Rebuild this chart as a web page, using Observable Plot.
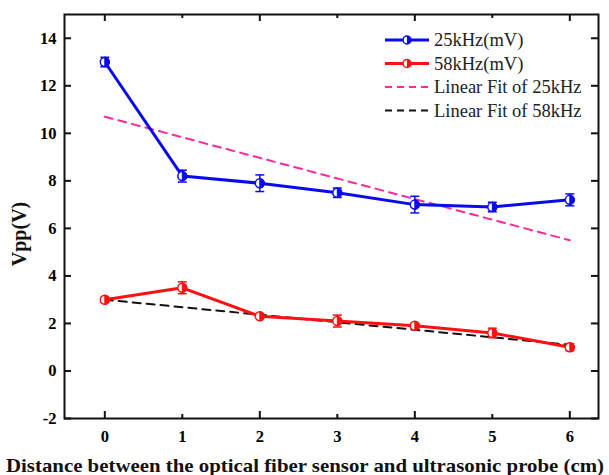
<!DOCTYPE html>
<html><head><meta charset="utf-8">
<script src="https://cdn.jsdelivr.net/npm/d3@7"></script>
<script src="https://cdn.jsdelivr.net/npm/@observablehq/plot@0.6"></script>
<style>body{margin:0;background:#fff;} svg{font-family:"Liberation Serif","Times New Roman",serif;}</style>
</head><body><div id="chart"></div>
<script>
const distances = [0, 1, 2, 3, 4, 5, 6];
const v25 = [13.0, 8.2, 7.9, 7.5, 7.0, 6.9, 7.2];
const e25 = [0.2, 0.25, 0.35, 0.2, 0.35, 0.2, 0.25];
const v58 = [3.0, 3.5, 2.3, 2.1, 1.9, 1.6, 1.0];
const e58 = [0.1, 0.25, 0.05, 0.25, 0.1, 0.2, 0.15];
const fit25 = [10.7, 5.5];
const fit58 = [3.0, 1.1];
const fitX = [0, 6];
const xTicks = [0, 1, 2, 3, 4, 5, 6];
const xMajor = [0, 2, 4, 6];
const xMinor = [1, 3, 5];
const yTicks = [-2, 0, 2, 4, 6, 8, 10, 12, 14];
const xTitle = "Distance between the optical fiber sensor and ultrasonic probe (cm)";
const yTitle = "Vpp(V)";
const legendLabels = ["25kHz(mV)", "58kHz(mV)", "Linear Fit of 25kHz", "Linear Fit of 58kHz"];

const blue = "#0a0af0", red = "#ff1010", pink = "#ff2a9a", black = "#111";
const W = 609, H = 475, mL = 64, mR = 11, mT = 14, mB = 57;
const fw = W - mL - mR, fh = H - mT - mB, tk = 7, tkm = 4;

const d25 = distances.map((x, i) => ({x, y: v25[i], lo: v25[i] - e25[i], hi: v25[i] + e25[i]}));
const d58 = distances.map((x, i) => ({x, y: v58[i], lo: v58[i] - e58[i], hi: v58[i] + e58[i]}));
const f25 = fitX.map((x, i) => ({x, y: fit25[i]}));
const f58 = fitX.map((x, i) => ({x, y: fit58[i]}));

const halfRight = {draw(ctx, size) { const r = Math.sqrt(size / Math.PI); ctx.moveTo(0, -r); ctx.arc(0, 0, r, -Math.PI / 2, Math.PI / 2); ctx.closePath(); }};
const cap = {draw(ctx, size) { const r = Math.sqrt(size / Math.PI); ctx.moveTo(-r, 0); ctx.lineTo(r, 0); }};

function series(data, color) {
  return [
    Plot.line(data, {x: "x", y: "y", stroke: color, strokeWidth: 3}),
    Plot.ruleX(data, {x: "x", y1: "lo", y2: "hi", stroke: color, strokeWidth: 1.5}),
    Plot.dot(data, {x: "x", y: "lo", symbol: cap, r: 4.5, stroke: color, strokeWidth: 1.5}),
    Plot.dot(data, {x: "x", y: "hi", symbol: cap, r: 4.5, stroke: color, strokeWidth: 1.5}),
    Plot.dot(data, {x: "x", y: "y", r: 4.5, fill: "white", stroke: color, strokeWidth: 1.5}),
    Plot.dot(data, {x: "x", y: "y", r: 4.5, symbol: halfRight, fill: color, stroke: color, strokeWidth: 1})
  ];
}

const plot = Plot.plot({
  width: W, height: H,
  marginLeft: mL, marginRight: mR, marginTop: mT, marginBottom: mB,
  style: {fontFamily: "'Liberation Serif','Times New Roman',serif", background: "white"},
  x: {domain: [-0.52, 6.37]},
  y: {domain: [-2, 15]},
  marks: [
    Plot.line(f25, {x: "x", y: "y", stroke: pink, strokeWidth: 2, strokeDasharray: "8,6"}),
    Plot.line(f58, {x: "x", y: "y", stroke: black, strokeWidth: 2, strokeDasharray: "8,6"}),
    ...series(d25, blue),
    ...series(d58, red),
    Plot.axisX({ticks: xTicks, tickSize: 0, tickPadding: 12, tickFormat: d => `${d}`, fontSize: 16.5, fontWeight: "bold", label: null}),
    Plot.axisY({ticks: yTicks, tickSize: 0, tickPadding: 8, tickFormat: d => `${d}`, fontSize: 16.5, fontWeight: "bold", label: null}),
    Plot.ruleX(xMajor, {x: d => d, insetTop: fh - tk, stroke: black, strokeWidth: 2}),
    Plot.ruleX(xMinor, {x: d => d, insetTop: fh - tkm, stroke: black, strokeWidth: 2}),
    Plot.ruleX(xMajor, {x: d => d, insetBottom: fh - tk, stroke: black, strokeWidth: 2}),
    Plot.ruleX(xMinor, {x: d => d, insetBottom: fh - tkm, stroke: black, strokeWidth: 2}),
    Plot.ruleY(yTicks, {y: d => d, insetRight: fw - tk, stroke: black, strokeWidth: 2}),
    Plot.ruleY(yTicks, {y: d => d, insetLeft: fw - tk, stroke: black, strokeWidth: 2}),
    Plot.frame({stroke: black, strokeWidth: 2})
  ]
});
document.getElementById("chart").appendChild(plot);

const svg = d3.select(plot.tagName === "svg" ? plot : plot.querySelector("svg"));
svg.append("text").attr("x", 305).attr("y", 465).attr("dy", "0.35em")
  .style("font-size", "19px").style("font-weight", "bold").style("text-anchor", "middle")
  .attr("textLength", 598).attr("lengthAdjust", "spacingAndGlyphs").attr("fill", "#111").text(xTitle);
svg.append("text").attr("transform", "translate(19,234) rotate(-90)").attr("dy", "0.35em")
  .style("font-size", "20px").style("font-weight", "bold").style("text-anchor", "middle").attr("fill", "#111").text(yTitle);
const lg = svg.append("g").attr("class", "legend").style("text-anchor", "start").style("font-size", "18.5px");
const colors = [blue, red, pink, black];
legendLabels.forEach((lab, i) => {
  const y = 40 + i * 23.5;
  const g = lg.append("g");
  g.append("line").attr("x1", 385).attr("x2", 429).attr("y1", y).attr("y2", y)
    .attr("stroke", colors[i]).attr("stroke-width", i < 2 ? 3 : 2)
    .attr("stroke-dasharray", i < 2 ? null : "7,5");
  if (i < 2) {
    g.append("circle").attr("cx", 407).attr("cy", y).attr("r", 4).attr("fill", "white").attr("stroke", colors[i]).attr("stroke-width", 1.5);
    g.append("path").attr("d", `M407,${y - 4}A4,4 0 0 1 407,${y + 4}Z`).attr("fill", colors[i]);
  }
  g.append("text").attr("x", 434).attr("y", y).attr("dy", "0.35em").style("font-size", "18.5px").style("text-anchor", "start").attr("fill", "#222").text(lab);
});
</script></body></html>
